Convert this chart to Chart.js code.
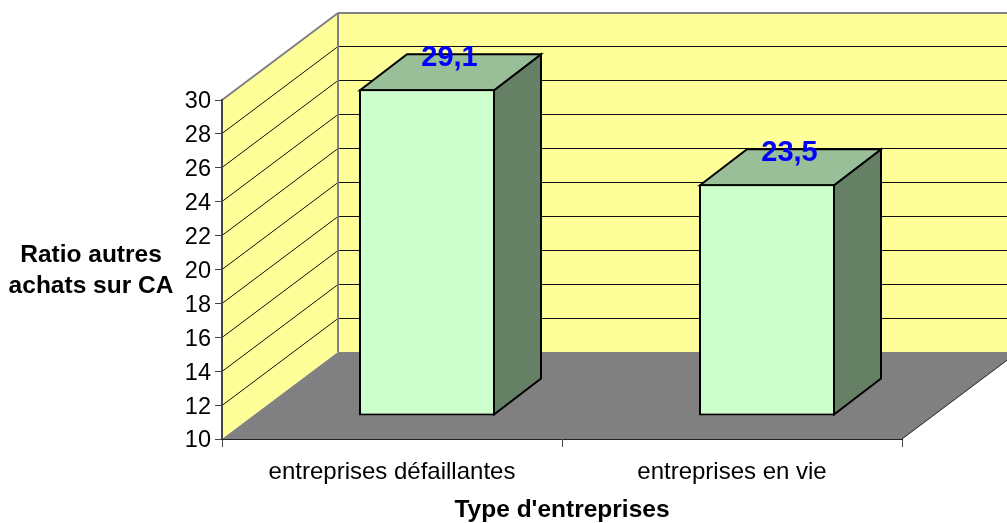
<!DOCTYPE html>
<html>
<head>
<meta charset="utf-8">
<style>html,body{margin:0;padding:0;background:#fff;overflow:hidden}canvas{display:block}</style>
<script src="https://cdn.jsdelivr.net/npm/chart.js@4"></script>
</head>
<body>
<canvas id="c" width="1007" height="523"></canvas>
<script>
const categories = ["entreprises défaillantes", "entreprises en vie"];
const ratioValues = [29.1, 23.5];
const yTitleLines = ["Ratio autres", "achats sur CA"];
const xTitle = "Type d'entreprises";
const FONT = '"Liberation Sans", Arial, sans-serif';
const WALL = {dx: 116, dy: -87};
const BAR_SHIFT = {dx: 35, dy: -26};
const BAR_DEPTH = {dx: 47, dy: -36};

function poly(ctx, pts, fill, stroke, lw) {
  ctx.beginPath();
  pts.forEach((p, i) => i ? ctx.lineTo(p[0], p[1]) : ctx.moveTo(p[0], p[1]));
  ctx.closePath();
  if (fill) { ctx.fillStyle = fill; ctx.fill(); }
  if (stroke) { ctx.strokeStyle = stroke; ctx.lineWidth = lw; ctx.lineJoin = 'miter'; ctx.stroke(); }
}
function line(ctx, x1, y1, x2, y2, color, lw) {
  ctx.beginPath(); ctx.moveTo(x1, y1); ctx.lineTo(x2, y2);
  ctx.strokeStyle = color; ctx.lineWidth = lw; ctx.stroke();
}
const box3d = {
  id: 'box3d',
  beforeDraw(chart) {
    const {ctx, chartArea: a, scales: {y}} = chart;
    const {left: l, right: r, top: t, bottom: b} = a;
    const {dx, dy} = WALL;
    ctx.save();
    poly(ctx, [[l, t], [l + dx, t + dy], [r + dx, t + dy], [r + dx, b + dy], [l + dx, b + dy], [l, b]], '#FFFF99');
    poly(ctx, [[l, b], [r, b], [r + dx, b + dy], [l + dx, b + dy]], '#808080');
    line(ctx, r, b, r + dx, b + dy, '#222', 1);
    y.ticks.forEach(tk => {
      if (tk.value === y.min || tk.value === y.max) return;
      const p = Math.floor(y.getPixelForValue(tk.value)) + 0.5;
      line(ctx, l, p, l + dx, p + dy, '#111', 1);
      line(ctx, l + dx, p + dy, r + dx, p + dy, '#111', 1);
    });
    line(ctx, l, t, l + dx, t + dy, '#808080', 2);
    line(ctx, l + dx, t + dy, r + dx, t + dy, '#808080', 2);
    line(ctx, l + dx, t + dy, l + dx, b + dy, '#808080', 2);
    ctx.restore();
  },
  beforeDatasetDraw(chart, args) {
    const {ctx} = chart;
    ctx.save();
    ctx.translate(BAR_SHIFT.dx, BAR_SHIFT.dy);
    const {dx, dy} = BAR_DEPTH;
    args.meta.data.forEach(bar => {
      const L = bar.x - bar.width / 2 + 1, R = bar.x + bar.width / 2 - 1, T = bar.y + 1, B = bar.base - 1;
      poly(ctx, [[R, T], [R + dx, T + dy], [R + dx, B + dy], [R, B]], '#668066', '#000', 2);
      poly(ctx, [[L, T], [L + dx, T + dy], [R + dx, T + dy], [R, T]], '#99BF99', '#000', 2);
    });
  },
  afterDatasetDraw(chart) { chart.ctx.restore(); },
  afterDatasetsDraw(chart) {
    const {ctx, scales: {y}} = chart;
    const meta = chart.getDatasetMeta(0);
    ctx.save();
    ctx.textAlign = 'center';
    ctx.textBaseline = 'middle';
    ctx.fillStyle = '#0000FF';
    ctx.font = 'bold 29px ' + FONT;
    meta.data.forEach((bar, i) => {
      ctx.fillText(String(ratioValues[i]).replace('.', ','),
        bar.x + BAR_SHIFT.dx + BAR_DEPTH.dx / 2 - 1, bar.y + BAR_SHIFT.dy - 31);
    });
    ctx.fillStyle = '#000';
    ctx.font = 'bold 24.5px ' + FONT;
    yTitleLines.forEach((t, i) => ctx.fillText(t, 91, 255 + i * 31));
    ctx.font = '23.5px ' + FONT;
    ctx.textAlign = 'right';
    y.ticks.forEach(tk => ctx.fillText(String(tk.value), 211, y.getPixelForValue(tk.value) + 2));
    ctx.restore();
  }
};
new Chart(document.getElementById('c'), {
  type: 'bar',
  data: {
    labels: categories,
    datasets: [{
      data: ratioValues,
      base: 9.85,
      backgroundColor: '#CCFFCC',
      borderColor: '#000',
      borderWidth: 2,
      borderSkipped: false,
      categoryPercentage: 1,
      barPercentage: 0.4,
      clip: false
    }]
  },
  plugins: [box3d],
  options: {
    responsive: false,
    animation: false,
    layout: {padding: {top: 100, right: 105, left: 0, bottom: 0}},
    plugins: {legend: {display: false}, tooltip: {enabled: false}},
    scales: {
      y: {
        min: 10, max: 30,
        afterFit(s) { s.width = 222; },
        ticks: {stepSize: 2, color: 'rgba(0,0,0,0)', font: {family: FONT, size: 23.5}, padding: 4, autoSkip: false},
        grid: {drawOnChartArea: false, tickLength: 7, tickColor: '#444', tickWidth: 1},
        border: {color: '#444', width: 2}
      },
      x: {
        afterFit(s) { s.height = 84; },
        ticks: {color: '#000', font: {family: FONT, size: 24}, padding: 11, maxRotation: 0},
        grid: {drawOnChartArea: false, tickLength: 8, tickColor: '#444', tickWidth: 1},
        border: {color: '#222', width: 1},
        title: {display: true, text: xTitle, color: '#000', font: {family: FONT, size: 24.5, weight: 'bold'}, padding: {top: 10, bottom: -2}}
      }
    }
  }
});
</script>
</body>
</html>
